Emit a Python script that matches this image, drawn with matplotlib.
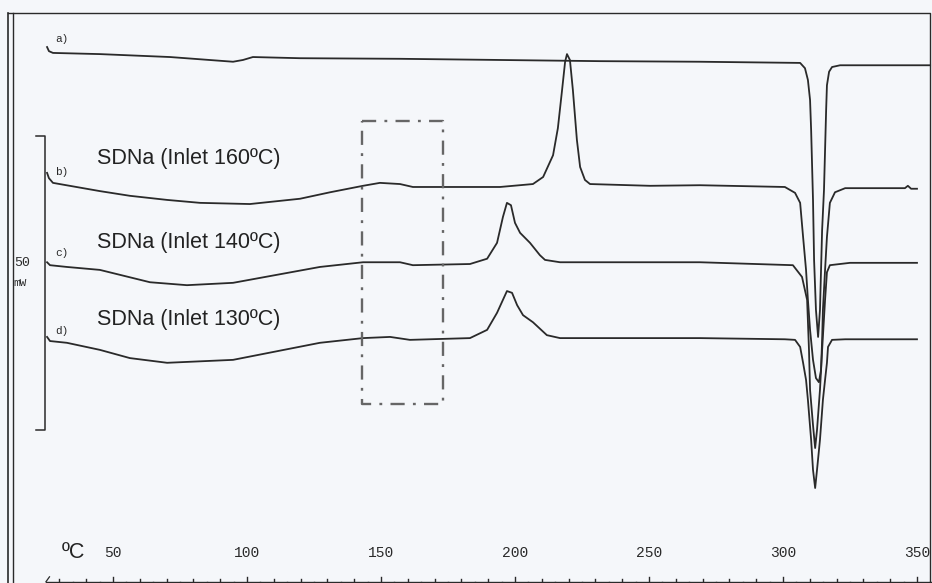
import numpy as np
import matplotlib
matplotlib.use("Agg")
import matplotlib.pyplot as plt

# DSC traces, temperature in degC, heat flow in mW (curves stacked, endo down)
temp_a = [25.4, 26.1, 27.6, 45.1, 71.3, 94.8, 98.5, 102.2, 119.8, 157.1, 194.4,
          231.7, 269.0, 306.4, 308.2, 309.3, 310.1, 310.5, 310.8, 311.2, 311.6,
          312.3, 313.1, 313.8, 314.2, 314.6, 315.3, 315.7, 316.1, 316.4, 317.2,
          318.3, 321.3, 354.9]
flow_a = [-8.0, -8.7, -9.0, -9.2, -9.7, -10.5, -10.2, -9.7, -9.9, -10.0, -10.2,
          -10.4, -10.5, -10.7, -11.6, -13.6, -17.0, -22.1, -27.2, -34.0, -44.2,
          -52.7, -57.3, -52.7, -45.9, -39.1, -32.3, -25.5, -18.7, -14.5, -12.2,
          -11.4, -11.1, -11.1]

temp_b = [25.4, 26.1, 27.6, 45.1, 56.3, 70.2, 82.5, 101.1, 119.8, 131.0, 143.3,
          149.6, 157.1, 161.9, 172.0, 194.4, 206.7, 210.5, 214.2, 216.0, 217.5,
          218.7, 219.4, 220.5, 221.6, 223.1, 224.3, 226.1, 228.0, 250.4, 269.0,
          300.7, 304.5, 306.4, 307.5, 308.6, 309.3, 310.1, 311.2, 312.3, 313.4,
          314.2, 314.6, 314.9, 315.7, 316.4, 317.5, 319.4, 323.2, 345.5, 346.6,
          347.8, 350.0]
flow_b = [-29.4, -30.3, -31.1, -32.5, -33.3, -34.0, -34.5, -34.7, -33.8, -32.7, -31.6,
          -31.1, -31.3, -31.8, -31.8, -31.8, -31.3, -30.1, -26.4, -21.8, -15.6,
          -10.5, -9.2, -10.2, -15.3, -23.8, -28.4, -30.6, -31.3, -31.6, -31.5,
          -31.8, -32.8, -34.5, -40.3, -45.9, -51.0, -56.1, -61.2, -64.3, -65.0,
          -62.9, -57.8, -52.7, -45.9, -40.3, -34.5, -32.7, -32.0, -32.0, -31.6,
          -32.1, -32.1]

temp_c = [25.4, 26.5, 32.8, 45.1, 63.8, 77.6, 94.8, 127.2, 143.3, 157.1, 161.9,
          183.2, 189.6, 193.3, 195.5, 197.0, 198.5, 200.0, 201.9, 205.6, 209.3,
          211.2, 216.8, 269.0, 303.7, 307.1, 309.0, 309.7, 310.1, 311.2, 312.0,
          312.7, 313.8, 314.6, 315.7, 316.4, 317.5, 325.0, 350.0]
flow_c = [-44.6, -45.1, -45.4, -45.9, -48.0, -48.5, -48.1, -45.4, -44.6, -44.6, -45.1,
          -44.9, -44.0, -41.3, -36.9, -34.5, -34.9, -37.9, -39.6, -41.3, -43.4,
          -44.2, -44.6, -44.6, -45.1, -47.1, -51.0, -59.5, -66.3, -72.3, -76.2,
          -73.1, -66.3, -59.5, -51.0, -46.3, -45.1, -44.7, -44.7]

temp_d = [25.4, 26.5, 32.8, 45.1, 56.3, 70.2, 94.8, 127.2, 143.3, 153.4, 160.8,
          183.2, 189.6, 193.3, 195.5, 197.0, 198.9, 200.8, 203.0, 206.7, 211.9,
          216.8, 269.0, 300.7, 304.5, 306.4, 307.5, 308.6, 309.3, 310.5, 311.2,
          312.0, 312.7, 313.8, 314.9, 315.7, 316.4, 316.8, 318.3, 323.2, 350.0]
flow_d = [-57.3, -58.0, -58.3, -59.5, -60.9, -61.7, -61.2, -58.3, -57.5, -57.3, -57.8,
          -57.5, -56.1, -53.2, -51.0, -49.5, -49.8, -51.9, -53.6, -54.8, -57.0,
          -57.5, -57.5, -57.7, -57.8, -59.0, -61.7, -64.6, -68.0, -74.8, -79.9,
          -83.0, -79.9, -74.8, -68.0, -64.6, -61.7, -59.0, -57.8, -57.7, -57.7]

curve_tags = ["a)", "b)", "c)", "d)"]
sample_names = ["SDNa (Inlet 160ºC)", "SDNa (Inlet 140ºC)", "SDNa (Inlet 130ºC)"]
tick_values = [50, 100, 150, 200, 250, 300, 350]

# highlighted temperature window
box_t0, box_t1 = 143.0, 173.1
box_top, box_bottom = -20.6, -68.7

ink = "#2a2a2a"
bg = "#f5f7fa"

fig = plt.figure(figsize=(9.32, 5.83), dpi=100, facecolor=bg)
ax = fig.add_axes([0, 0, 1, 1])
ax.set_facecolor(bg)
ax.set_xlim(7.84, 7.84 + 932 / 2.68)
ax.set_ylim(-583 / 5.88, 0)
ax.axis("off")

for t, f in [(temp_a, flow_a), (temp_b, flow_b), (temp_c, flow_c), (temp_d, flow_d)]:
    ax.plot(t, f, color=ink, lw=1.3, solid_joinstyle="round")

# frame
tA = ax.transAxes
ax.plot([0.0089, 0.0089], [0, 0.977], color=ink, lw=1.2, transform=tA)
ax.plot([0.0136, 0.0136], [0, 0.977], color=ink, lw=1.0, transform=tA)
ax.plot([0.0089, 0.998, 0.998], [0.977, 0.977, 0.0], color=ink, lw=1.0, transform=tA)

# 50 mW scale bar
bar_x, bar_top = 24.6, -23.1
ax.plot([21.3, bar_x, bar_x, 21.3], [bar_top, bar_top, bar_top - 50, bar_top - 50],
        color=ink, lw=1.1)
ax.text(13.2, -44.7, "50", family="Liberation Mono", fontsize=9.5, color=ink,
        ha="left", va="center")
ax.text(12.7, -48.1, "mW", family="Liberation Mono", fontsize=8, color=ink,
        ha="left", va="center")

# curve tags and sample names
for tag, y in zip(curve_tags, [-6.6, -29.3, -43.0, -56.3]):
    ax.text(28.4, y, tag, family="Liberation Mono", fontsize=8, color=ink,
            ha="left", va="center")
for name, y in zip(sample_names, [-26.9, -41.3, -54.3]):
    ax.text(44.0, y, name, family="Liberation Sans", fontsize=15.5, color="#222222",
            ha="left", va="center")

# dash-dot window
ax.plot([box_t0, box_t1, box_t1, box_t0, box_t0],
        [box_top, box_top, box_bottom, box_bottom, box_top],
        color="#666666", lw=1.7, dashes=(6.0, 3.5, 1.2, 3.5))

# temperature ruler along the bottom
axis_y = -98.93
ax.plot([25, 356], [axis_y, axis_y], color=ink, lw=1.0, clip_on=False)
ax.plot([25, 26.3], [axis_y, -98.1], color=ink, lw=0.9)
for t in np.arange(30, 351, 10):
    top = -98.05 if t % 50 == 0 else -98.45
    ax.plot([t, t], [axis_y, top], color=ink, lw=1.0)
for t in np.arange(35, 356, 10):
    ax.plot([t, t], [axis_y, -99.3], color=ink, lw=1.0)
for v in tick_values:
    ax.text(v, -94.0, str(v), family="Liberation Mono", fontsize=10.5, color=ink,
            ha="center", va="center")
ax.text(31.0, -94.0, "ºC", family="Liberation Sans", fontsize=15.5, color="#222222",
        ha="left", va="center")

fig.savefig("out.png", dpi=100, facecolor=bg)
